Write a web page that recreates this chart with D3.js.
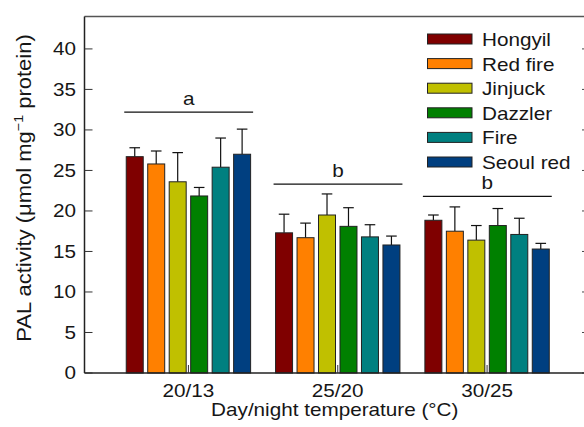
<!DOCTYPE html>
<html><head><meta charset="utf-8">
<script src="https://cdn.jsdelivr.net/npm/d3@7"></script>
<style>
body{margin:0;background:#fff;}
text{font-family:"Liberation Sans",Arial,Helvetica,sans-serif;fill:#161616;}
</style></head>
<body><svg id="c" width="584" height="427"></svg>
<script>
// ---- data ----
const categories = ["20/13", "25/20", "30/25"];
const cultivars = ["Hongyil", "Red fire", "Jinjuck", "Dazzler", "Fire", "Seoul red"];
const colors = ["#7f0000", "#ff8000", "#c0c000", "#008000", "#008080", "#003f80"];
const means_20_13 = [26.7, 25.8, 23.6, 21.85, 25.4, 27.0];
const means_25_20 = [17.3, 16.7, 19.5, 18.1, 16.8, 15.8];
const means_30_25 = [18.85, 17.5, 16.4, 18.2, 17.1, 15.3];
const err_20_13 = [1.1, 1.6, 3.6, 1.05, 3.6, 3.1];
const err_25_20 = [2.3, 1.8, 2.6, 2.3, 1.5, 1.1];
const err_30_25 = [0.65, 3.0, 1.8, 2.1, 2.0, 0.7];
const sigLetters = ["a", "b", "b"];
const sigLevels = [32.2, 23.3, 21.8];
const yTicks = [0, 5, 10, 15, 20, 25, 30, 35, 40];

const means = [means_20_13, means_25_20, means_30_25];
const errs = [err_20_13, err_25_20, err_30_25];

// ---- layout ----
const SX = 1.15; // text is wider than plain Arial in the original
const FS = 18;
const L = 84.5, R = 591, T = 16.5, B = 373;
const svg = d3.select("#c");

const y = d3.scaleLinear().domain([0, 44]).range([B, T]);
const x0 = d3.scaleBand().domain(categories).range([L, R]).paddingInner(0).paddingOuter(0.196);
const x1 = d3.scaleBand().domain(cultivars).range([0, x0.bandwidth()]).paddingInner(0.209).paddingOuter(0.581);
const color = d3.scaleOrdinal().domain(cultivars).range(colors);

function stext(g, x, yy, str, anchor) {
  return g.append("text").attr("transform", `translate(${x},${yy}) scale(${SX},1)`)
    .attr("text-anchor", anchor || "middle").style("font-size", FS + "px").text(str);
}

// frame top/right
svg.append("line").attr("x1", L).attr("x2", R).attr("y1", T).attr("y2", T).attr("stroke", "#555").attr("stroke-width", 1.5);
svg.append("line").attr("x1", R).attr("x2", R).attr("y1", T).attr("y2", B).attr("stroke", "#555").attr("stroke-width", 1.5);
// right inner ticks
svg.append("g").selectAll("line").data(yTicks).join("line")
  .attr("x1", R).attr("x2", R - 9).attr("y1", d => y(d)).attr("y2", d => y(d)).attr("stroke", "#444");

// bars
const groups = svg.append("g").selectAll("g").data(categories).join("g")
  .attr("transform", d => `translate(${x0(d)},0)`);
groups.each(function(cat, gi) {
  const g = d3.select(this);
  const rows = cultivars.map((c, i) => ({c, v: means[gi][i], e: errs[gi][i]}));
  g.selectAll("line.eb").data(rows).join("line").attr("class", "eb")
    .attr("x1", d => x1(d.c) + x1.bandwidth() / 2).attr("x2", d => x1(d.c) + x1.bandwidth() / 2)
    .attr("y1", d => y(d.v)).attr("y2", d => y(d.v + d.e)).attr("stroke", "#111").attr("stroke-width", 1.2);
  g.selectAll("line.cap").data(rows).join("line").attr("class", "cap")
    .attr("x1", d => x1(d.c) + x1.bandwidth() / 2 - 5.3).attr("x2", d => x1(d.c) + x1.bandwidth() / 2 + 5.3)
    .attr("y1", d => y(d.v + d.e)).attr("y2", d => y(d.v + d.e)).attr("stroke", "#111").attr("stroke-width", 1.2);
  g.selectAll("rect").data(rows).join("rect")
    .attr("x", d => x1(d.c)).attr("width", x1.bandwidth())
    .attr("y", d => y(d.v)).attr("height", d => y(0) - y(d.v))
    .attr("fill", d => color(d.c)).attr("stroke", "#222").attr("stroke-width", 1);
  const xa = x1(cultivars[0]) - 2, xb = x1(cultivars[5]) + x1.bandwidth() + 2.5;
  g.append("line").attr("x1", xa).attr("x2", xb).attr("y1", y(sigLevels[gi])).attr("y2", y(sigLevels[gi]))
    .attr("stroke", "#111").attr("stroke-width", 1.2);
  stext(g, (xa + xb) / 2, y(sigLevels[gi]) - 7, sigLetters[gi]);
});

// bottom axis
svg.append("line").attr("x1", L).attr("x2", R).attr("y1", B).attr("y2", B).attr("stroke", "#222").attr("stroke-width", 1.5);
svg.append("g").selectAll("line").data(categories).join("line")
  .attr("x1", d => x0(d) + x0.bandwidth() / 2).attr("x2", d => x0(d) + x0.bandwidth() / 2)
  .attr("y1", B).attr("y2", B - 8).attr("stroke", "#333");
categories.forEach(c => stext(svg, x0(c) + x0.bandwidth() / 2, 397, c));
stext(svg, (L + R) / 2 - 3, 416, "Day/night temperature (°C)");

// left axis
svg.append("line").attr("x1", L).attr("x2", L).attr("y1", T).attr("y2", B).attr("stroke", "#222").attr("stroke-width", 1.5);
svg.append("g").selectAll("line").data(yTicks).join("line")
  .attr("x1", L).attr("x2", L + 8).attr("y1", d => y(d)).attr("y2", d => y(d)).attr("stroke", "#333");
yTicks.forEach(t => stext(svg, 76, y(t) + 6.4, String(t), "end"));

// y title
const yt = svg.append("text")
  .attr("transform", `translate(31,188) rotate(-90) scale(1.1,1)`)
  .attr("text-anchor", "middle").style("font-size", "20px");
yt.append("tspan").text("PAL activity (μmol mg");
yt.append("tspan").attr("dy", -8).style("font-size", "13px").text("−1");
yt.append("tspan").attr("dy", 8).text(" protein)");

// legend
const lg = svg.append("g");
cultivars.forEach((c, i) => {
  const cy = 39 + 24.6 * i;
  lg.append("rect").attr("x", 427.5).attr("y", cy - 5).attr("width", 44.5).attr("height", 10)
    .attr("fill", color(c)).attr("stroke", "#222").attr("stroke-width", 1);
  stext(lg, 482, cy + 7, c, "start");
});
</script></body></html>
